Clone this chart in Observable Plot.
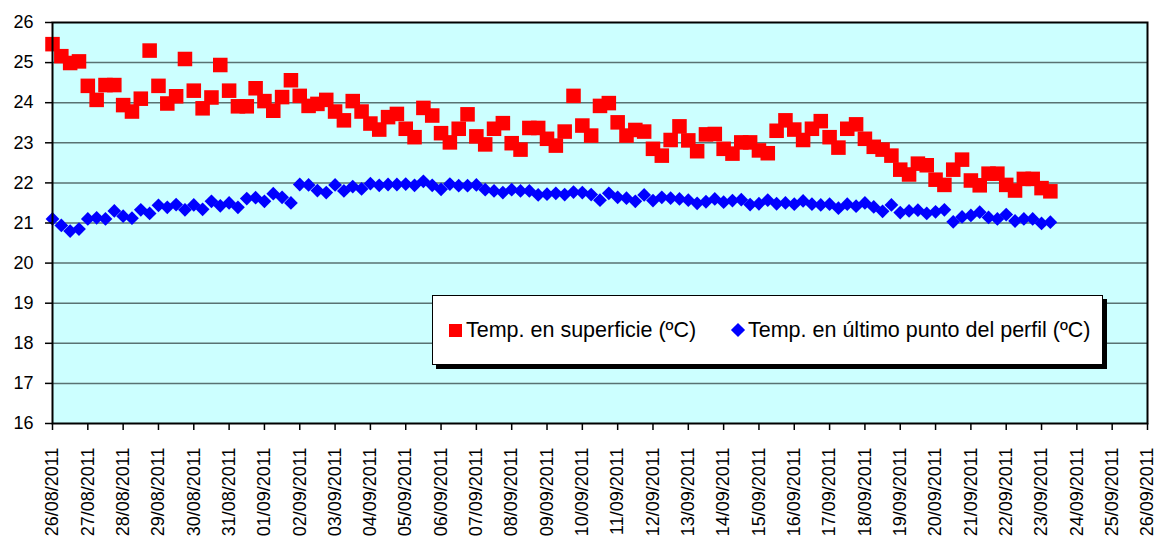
<!DOCTYPE html>
<html><head><meta charset="utf-8">
<script src="https://cdn.jsdelivr.net/npm/d3@7"></script>
<script src="https://cdn.jsdelivr.net/npm/@observablehq/plot@0.6"></script>
<style>
body{margin:0;background:#fff;font-family:"Liberation Sans",Arial,sans-serif;}
#wrap{position:relative;width:1157px;height:547px;}
#legend{position:absolute;left:432px;top:295px;width:669px;height:68px;background:#fff;border:1.5px solid #000;box-shadow:4px 4px 0 #000;font-size:21.5px;color:#000;}
#legend .it{position:absolute;top:0;height:68px;display:flex;align-items:center;white-space:nowrap;}
#legend .sq{display:inline-block;width:13px;height:13px;background:#FF0000;margin-right:4px;}
#legend .dm{display:inline-block;width:10px;height:10px;background:#0000FF;transform:rotate(45deg);margin-right:5px;margin-left:2px;}
</style></head>
<body>
<div id="wrap">
<div id="chart"></div>
<div id="legend">
  <div class="it" style="left:16px"><span class="sq"></span><span id="l1"></span></div>
  <div class="it" style="left:298px"><span class="dm"></span><span id="l2"></span></div>
</div>
</div>
<script>
// Series names
const seriesNames = ["Temp. en superficie (ºC)", "Temp. en último punto del perfil (ºC)"];
// Sampling: first reading 26/08/2011 00:00, one reading every 6 hours
const firstReading = "2011-08-26T00:00:00Z";
const stepHours = 6;
// Surface temperature (ºC)
const surface = [
25.46,25.16,24.99,25.03,24.42,24.07,24.44,24.44,23.94,23.78,
24.10,25.30,24.42,23.98,24.16,25.09,24.30,23.86,24.13,24.94,
24.30,23.91,23.91,24.36,24.04,23.80,24.14,24.56,24.17,23.92,
23.97,24.07,23.78,23.56,24.04,23.78,23.48,23.33,23.64,23.72,
23.35,23.14,23.87,23.68,23.24,23.01,23.35,23.71,23.16,22.96,
23.35,23.49,22.99,22.83,23.37,23.37,23.10,22.93,23.28,24.17,
23.43,23.18,23.92,23.99,23.51,23.18,23.32,23.28,22.85,22.68,
23.07,23.41,23.06,22.79,23.21,23.22,22.85,22.73,23.01,23.01,
22.81,22.74,23.30,23.56,23.33,23.07,23.35,23.54,23.14,22.88,
23.35,23.46,23.10,22.90,22.83,22.68,22.33,22.21,22.48,22.44,
22.08,21.95,22.33,22.58,22.06,21.94,22.23,22.23,21.95,21.81,
22.10,22.10,21.87,21.79];
// Temperature at last point of profile (ºC)
const bottom = [
21.10,20.94,20.80,20.85,21.10,21.13,21.10,21.30,21.17,21.12,
21.33,21.24,21.44,21.39,21.46,21.33,21.45,21.34,21.54,21.43,
21.50,21.39,21.61,21.63,21.54,21.73,21.64,21.50,21.96,21.95,
21.81,21.76,21.95,21.80,21.91,21.85,21.98,21.94,21.96,21.96,
21.97,21.94,22.04,21.94,21.84,21.97,21.93,21.93,21.95,21.83,
21.80,21.76,21.83,21.80,21.80,21.70,21.72,21.74,21.71,21.77,
21.76,21.71,21.57,21.74,21.64,21.62,21.54,21.70,21.56,21.64,
21.62,21.60,21.57,21.49,21.53,21.60,21.52,21.56,21.58,21.46,
21.48,21.57,21.48,21.50,21.47,21.55,21.47,21.45,21.47,21.37,
21.47,21.42,21.50,21.40,21.29,21.45,21.26,21.30,21.32,21.24,
21.28,21.33,21.03,21.15,21.19,21.27,21.14,21.10,21.21,21.05,
21.10,21.10,20.99,21.02];
// Axis ticks
const yTicks = [16,17,18,19,20,21,22,23,24,25,26];
const xTickLabels = ["26/08/2011","27/08/2011","28/08/2011","29/08/2011","30/08/2011","31/08/2011",
"01/09/2011","02/09/2011","03/09/2011","04/09/2011","05/09/2011","06/09/2011","07/09/2011",
"08/09/2011","09/09/2011","10/09/2011","11/09/2011","12/09/2011","13/09/2011","14/09/2011",
"15/09/2011","16/09/2011","17/09/2011","18/09/2011","19/09/2011","20/09/2011","21/09/2011",
"22/09/2011","23/09/2011","24/09/2011","25/09/2011","26/09/2011"];

const parseLabel = d3.utcParse("%d/%m/%Y");
const tickDates = xTickLabels.map(parseLabel);
const labelOf = new Map(tickDates.map((d, i) => [+d, xTickLabels[i]]));
const t0 = +new Date(firstReading);
const toRows = arr => arr.map((v, i) => ({date: new Date(t0 + i * stepHours * 3600e3), v}));
const surfRows = toRows(surface);
const botRows = toRows(bottom);

document.getElementById("l1").textContent = seriesNames[0];
document.getElementById("l2").textContent = seriesNames[1];

const chart = Plot.plot({
  width: 1157, height: 547,
  marginLeft: 52, marginRight: 10, marginTop: 22, marginBottom: 124,
  style: {fontFamily: "'Liberation Sans', Arial, sans-serif", fontSize: "18px", color: "#000", background: "transparent"},
  x: {type: "utc", domain: [tickDates[0], tickDates[tickDates.length - 1]]},
  y: {domain: [yTicks[0], yTicks[yTicks.length - 1]]},
  marks: [
    Plot.frame({fill: "#CCFFFF"}),
    Plot.ruleY(yTicks.slice(1, -1), {stroke: "#587272", strokeWidth: 1.5}),
    Plot.dot(surfRows, {x: "date", y: "v", symbol: "square", r: 8.2, fill: "#FF0000"}),
    Plot.dot(botRows, {x: "date", y: "v", symbol: "diamond2", r: 6.2, fill: "#0000FF"}),
    Plot.frame({stroke: "#000", strokeWidth: 2}),
    Plot.axisY({ticks: yTicks, label: null, tickSize: 7, tickPadding: 12, fontSize: 18, strokeWidth: 1.5, tickFormat: d => String(d)}),
    Plot.axisX({ticks: tickDates, label: null, tickFormat: d => labelOf.get(+d), tickRotate: -90, tickSize: 7, tickPadding: 17, fontSize: 18, strokeWidth: 1.5})
  ]
});
document.getElementById("chart").appendChild(chart);
</script>
</body></html>
